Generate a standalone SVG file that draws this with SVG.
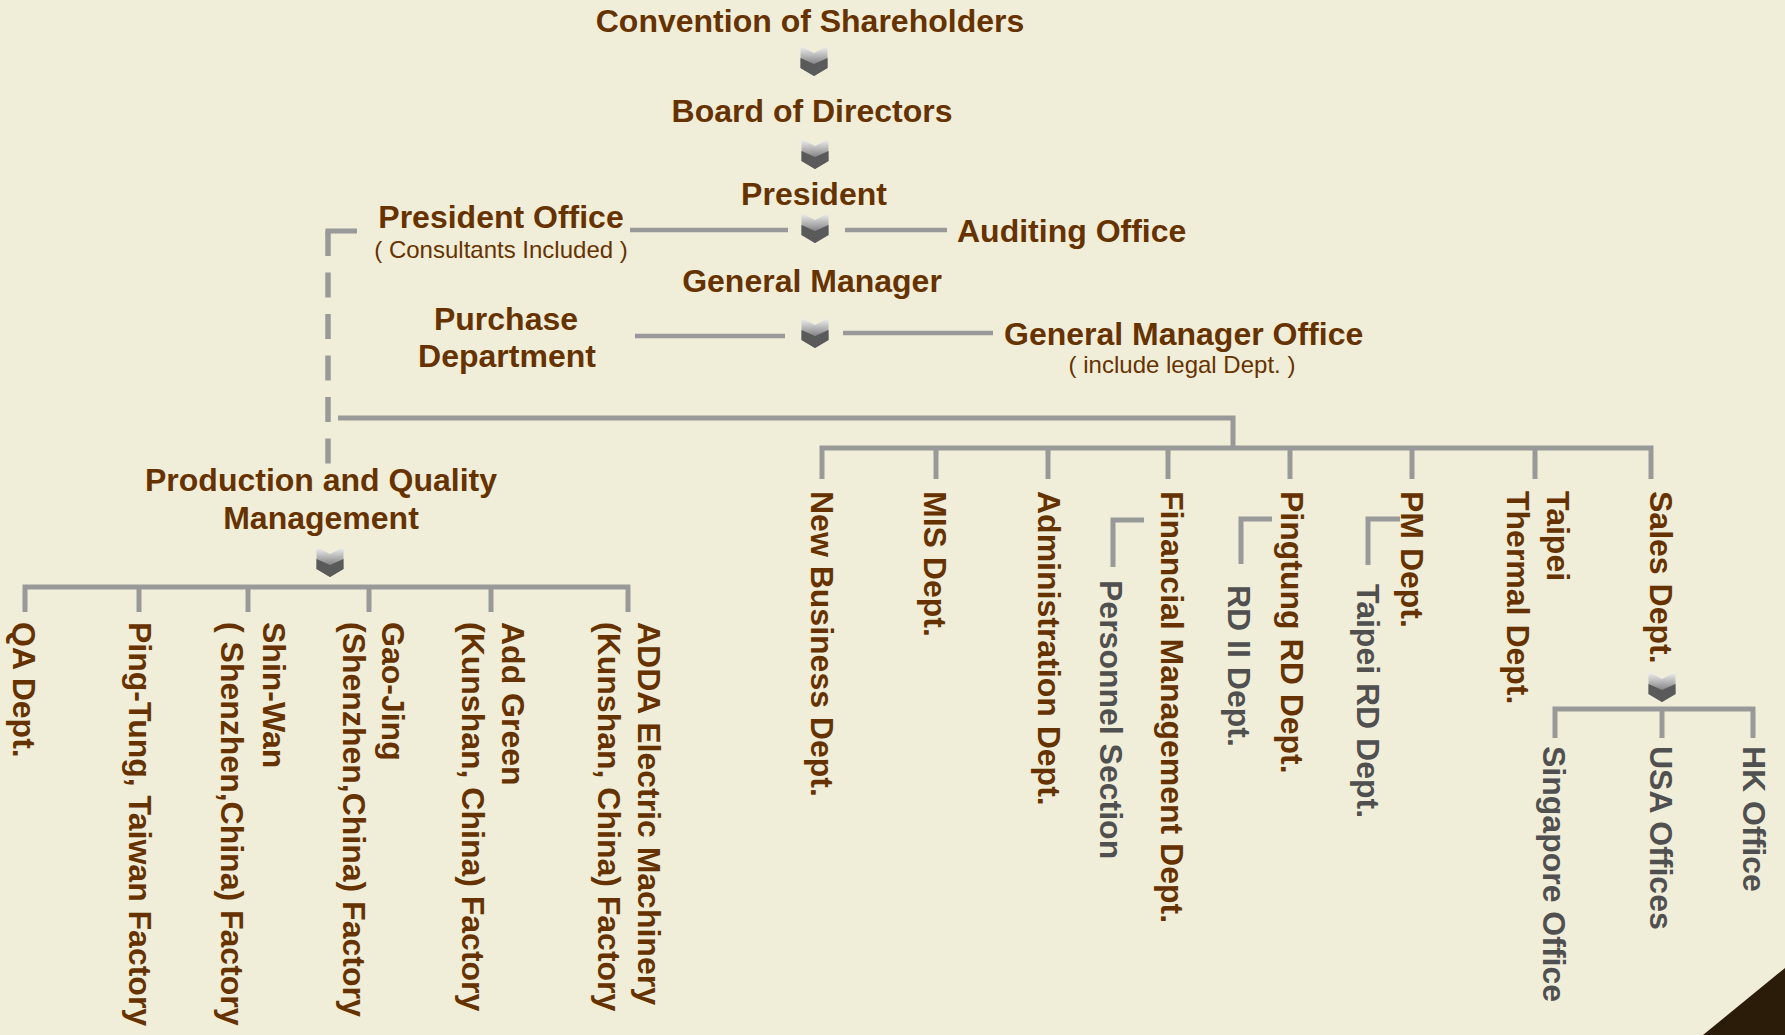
<svg xmlns="http://www.w3.org/2000/svg" width="1785" height="1035" viewBox="0 0 1785 1035">
<style>
  .t { font-family: "Liberation Sans", Arial, sans-serif; font-weight: bold; font-size: 32px; fill: #663300; }
  .c { text-anchor: middle; }
  .s { font-family: "Liberation Sans", Arial, sans-serif; font-size: 24px; fill: #663300; text-anchor: middle; }
  .g { fill: #505050; font-size: 32px; }
  .ln { stroke: #999999; stroke-width: 5; fill: none; }
  .ls { stroke: #999999; stroke-width: 4.5; fill: none; }
  .dash { stroke: #999999; stroke-width: 5.5; stroke-dasharray: 25 16.5; fill: none; }
</style>
<defs>
  <linearGradient id="cg" x1="0" y1="0" x2="0" y2="1">
    <stop offset="0" stop-color="#f2f2f2"/>
    <stop offset="0.55" stop-color="#8e8e8e"/>
    <stop offset="1" stop-color="#777777"/>
  </linearGradient>
  <g id="chev">
    <polygon points="-13.5,0 0,7 13.5,0 13.5,22 0,30 -13.5,22" fill="url(#cg)"/>
    <polygon points="-13.5,12 0,18 13.5,12 13.5,22 0,30 -13.5,22" fill="#5a5a5a"/>
  </g>
</defs>
<rect x="0" y="0" width="1785" height="1035" fill="#F0EED8"/>
<polygon points="1703,1035 1785,968 1785,1035" fill="#2b1c0a"/>

<g id="connectors">
  <use href="#chev" x="814" y="46"/>
  <use href="#chev" x="815" y="139"/>
  <use href="#chev" x="815" y="213"/>
  <use href="#chev" x="815" y="318"/>
  <use href="#chev" x="330" y="547"/>
  <use href="#chev" x="1662" y="672"/>
  <path class="ls" d="M630,230 H788"/>
  <path class="ls" d="M845,230 H947"/>
  <path class="ls" d="M635,336 H785"/>
  <path class="ls" d="M843,333 H993"/>
  <path class="ln" d="M357,231 H325.5"/>
  <path class="dash" d="M328,231 V464"/>
  <path class="ln" d="M338,418 H1233 V448"/>
  <path class="ln" d="M822,479 V448 H1651 V479"/>
  <path class="ln" d="M936,448 V479 M1048,448 V479 M1168,448 V479 M1290,448 V479 M1412,448 V479 M1535,448 V479"/>
  <path class="ln" d="M25,612 V587 H628 V612"/>
  <path class="ln" d="M139,587 V612 M248,587 V612 M369,587 V612 M491,587 V612"/>
  <path class="ln" d="M1555,738 V709 H1753 V738"/>
  <path class="ln" d="M1662,709 V738"/>
  <path class="ln" d="M1144,520 H1113 V567"/>
  <path class="ln" d="M1272,519 H1241 V564"/>
  <path class="ln" d="M1400,519 H1368 V565"/>
</g>

<g id="n-convention"><text class="t c" x="810" y="32">Convention of Shareholders</text></g>
<g id="n-board"><text class="t c" x="812" y="122">Board of Directors</text></g>
<g id="n-president"><text class="t c" x="814" y="205">President</text></g>
<g id="n-president-office"><text class="t c" x="501" y="228">President Office</text><text class="s" x="501" y="258">( Consultants Included )</text></g>
<g id="n-auditing"><text class="t" x="957" y="242">Auditing Office</text></g>
<g id="n-general-manager"><text class="t c" x="812" y="292">General Manager</text></g>
<g id="n-purchase"><text class="t c" x="506" y="330">Purchase</text><text class="t c" x="507" y="367">Department</text></g>
<g id="n-gm-office"><text class="t" x="1004" y="345">General Manager Office</text><text class="s" x="1182" y="373">( include legal Dept. )</text></g>
<g id="n-pqm"><text class="t c" x="321" y="491">Production and Quality</text><text class="t c" x="321" y="529">Management</text></g>

<g id="n-qa"><text class="t" transform="translate(13,622) rotate(90)">QA Dept.</text></g>
<g id="n-pingtung-factory"><text class="t" transform="translate(129,622) rotate(90)">Ping-Tung, Taiwan Factory</text></g>
<g id="n-shinwan"><text class="t" transform="translate(263,622) rotate(90)"><tspan x="0" y="0">Shin-Wan</tspan><tspan x="0" y="42">( Shenzhen,China) Factory</tspan></text></g>
<g id="n-gaojing"><text class="t" transform="translate(382,622) rotate(90)"><tspan x="0" y="0">Gao-Jing</tspan><tspan x="0" y="39">(Shenzhen,China) Factory</tspan></text></g>
<g id="n-addgreen"><text class="t" transform="translate(502,622) rotate(90)"><tspan x="0" y="0">Add Green</tspan><tspan x="0" y="40">(Kunshan, China) Factory</tspan></text></g>
<g id="n-adda"><text class="t" transform="translate(638,622) rotate(90)"><tspan x="0" y="0">ADDA Electric Machinery</tspan><tspan x="0" y="40">(Kunshan, China) Factory</tspan></text></g>

<g id="n-newbusiness"><text class="t" transform="translate(811,491) rotate(90)">New Business Dept.</text></g>
<g id="n-mis"><text class="t" transform="translate(924,491) rotate(90)">MIS Dept.</text></g>
<g id="n-admin"><text class="t" transform="translate(1038,491) rotate(90)">Administration Dept.</text></g>
<g id="n-personnel"><text class="t g" transform="translate(1100,580) rotate(90)">Personnel Section</text></g>
<g id="n-financial"><text class="t" transform="translate(1161,491) rotate(90)">Financial Management Dept.</text></g>
<g id="n-rd2"><text class="t g" transform="translate(1228,585) rotate(90)">RD II  Dept.</text></g>
<g id="n-pingtung-rd"><text class="t" transform="translate(1281,491) rotate(90)">Pingtung RD Dept.</text></g>
<g id="n-taipei-rd"><text class="t g" transform="translate(1357,584) rotate(90)">Taipei RD Dept.</text></g>
<g id="n-pm"><text class="t" transform="translate(1401,491) rotate(90)">PM Dept.</text></g>
<g id="n-thermal"><text class="t" transform="translate(1547,491) rotate(90)"><tspan x="0" y="0">Taipei</tspan><tspan x="0" y="40">Thermal Dept.</tspan></text></g>
<g id="n-sales"><text class="t" transform="translate(1650,491) rotate(90)">Sales Dept.</text></g>
<g id="n-singapore"><text class="t g" transform="translate(1543,746) rotate(90)">Singapore Office</text></g>
<g id="n-usa"><text class="t g" transform="translate(1650,746) rotate(90)">USA Offices</text></g>
<g id="n-hk"><text class="t g" transform="translate(1743,746) rotate(90)">HK Office</text></g>
</svg>
